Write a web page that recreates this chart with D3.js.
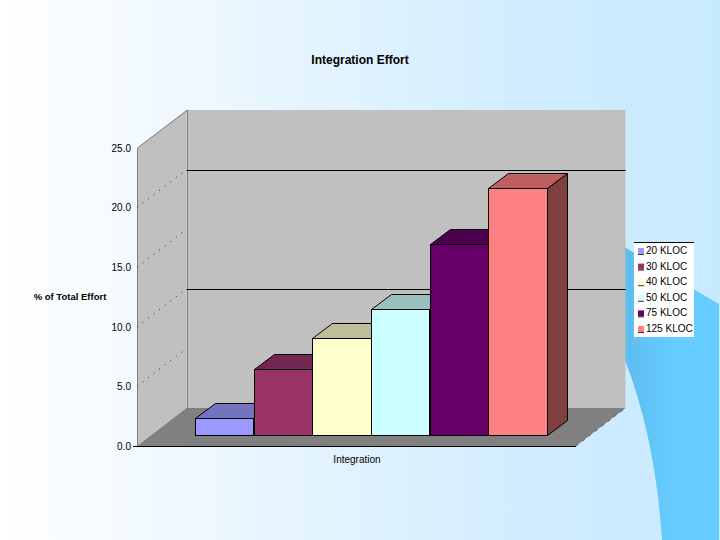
<!DOCTYPE html>
<html>
<head>
<meta charset="utf-8">
<script src="https://cdn.jsdelivr.net/npm/d3@7"></script>
<style>
  html, body { margin: 0; padding: 0; background: #fff; }
  svg { display: block; }
  text { font-family: "Liberation Sans", Arial, sans-serif; fill: #000; }
</style>
</head>
<body>
<div id="chart"></div>
<script>
const categorias = ["20 KLOC", "30 KLOC", "40 KLOC", "50 KLOC", "75 KLOC", "125 KLOC"];
const valores = [1.45, 5.5, 8.15, 10.6, 16.05, 20.7];
const coloresFrente = ["#9999ff", "#993366", "#ffffcc", "#ccffff", "#660066", "#ff8080"];
const coloresTapa = ["#7373bf", "#732650", "#bfbf99", "#99bfbf", "#4d004d", "#bf6060"];
const coloresLado = ["#4d4d80", "#4d1a33", "#808066", "#668080", "#330033", "#804040"];
const ticksY = [0, 5, 10, 15, 20, 25];
const lineasFondo = [10, 20];
const lineasPunteadas = [5, 10, 15, 20];

const width = 720;
const height = 540;

// Profundidad de la caja 3D y de las barras
const fondo = { dx: 49.5, dy: -38 };
const barra = { dx: 20, dy: -15, y: -10.5 };

// Ajuste al pixel para que los bordes salgan nitidos
const px = (v) => Math.round(v) + 0.5;

const svg = d3.select("#chart").append("svg").attr("width", width).attr("height", height);
const defs = svg.append("defs");

const degradado = defs.append("linearGradient").attr("id", "bg").attr("x1", 0).attr("x2", 1).attr("y1", 0).attr("y2", 0);
degradado.append("stop").attr("offset", "0%").attr("stop-color", "#ffffff");
degradado.append("stop").attr("offset", "75%").attr("stop-color", "#d0ecff");
degradado.append("stop").attr("offset", "100%").attr("stop-color", "#c8eaff");

const degradadoForma = defs.append("linearGradient").attr("id", "forma").attr("x1", 0).attr("x2", 1).attr("y1", 0).attr("y2", 0);
degradadoForma.append("stop").attr("offset", "0%").attr("stop-color", "#58b4e4");
degradadoForma.append("stop").attr("offset", "60%").attr("stop-color", "#66ccff");

svg.append("rect").attr("width", width).attr("height", height).attr("fill", "url(#bg)");

// Forma azul de la plantilla, detras del grafico
svg.append("path")
  .attr("d", "M600,232 C640,256 680,282 719,304 L719,540 L662,540 C658,480 648,420 625,360 C612,330 600,300 600,232 Z")
  .attr("fill", "url(#forma)");

const y = d3.scaleLinear().domain([0, 25]).range([446, 148]);
const xCaja = d3.scaleLinear().domain([0, 1]).range([137, 576]);
const x = d3.scaleBand().domain(categorias).range([195, 547]);

const puntos = (lista) => lista.map((p) => p.join(",")).join(" ");

const x0 = xCaja(0);
const x1 = xCaja(1);
const yBase = y(0);
const yTope = y(25);

// Pared lateral, pared de fondo y piso
svg.append("polygon")
  .attr("points", puntos([[x0, yBase], [x0, yTope], [x0 + fondo.dx, yTope + fondo.dy], [x0 + fondo.dx, yBase + fondo.dy]]))
  .attr("fill", "#c0c0c0");
svg.append("polygon")
  .attr("points", puntos([[x0 + fondo.dx, yBase + fondo.dy], [x0 + fondo.dx, yTope + fondo.dy], [x1 + fondo.dx, yTope + fondo.dy], [x1 + fondo.dx, yBase + fondo.dy]]))
  .attr("fill", "#c0c0c0");
svg.append("polygon")
  .attr("points", puntos([[x0, yBase], [x0 + fondo.dx, yBase + fondo.dy], [x1 + fondo.dx, yBase + fondo.dy], [x1, yBase]]))
  .attr("fill", "#808080");

// Bordes grises de las paredes
svg.append("path")
  .attr("d", `M${px(x0)},${yBase}V${yTope}L${px(x0 + fondo.dx)},${yTope + fondo.dy}V${yBase + fondo.dy}`)
  .attr("fill", "none").attr("stroke", "#808080").attr("stroke-width", 1);

// Lineas de division
svg.selectAll(".fondo").data(lineasFondo).join("line")
  .attr("x1", x0 + fondo.dx).attr("x2", x1 + fondo.dx)
  .attr("y1", (d) => px(y(d) + fondo.dy)).attr("y2", (d) => px(y(d) + fondo.dy))
  .attr("stroke", "#000");
svg.selectAll(".punteada").data(lineasPunteadas).join("line")
  .attr("x1", x0).attr("x2", x0 + fondo.dx)
  .attr("y1", (d) => y(d)).attr("y2", (d) => y(d) + fondo.dy)
  .attr("stroke", "#000").attr("stroke-width", 1).attr("stroke-dasharray", "1 6").attr("stroke-opacity", 0.8);

// Borde frontal y derecho del piso
svg.append("line").attr("x1", x0 - 4).attr("x2", x1).attr("y1", px(yBase)).attr("y2", px(yBase)).attr("stroke", "#000");
svg.append("line").attr("x1", x1).attr("x2", x1 + fondo.dx).attr("y1", yBase).attr("y2", yBase + fondo.dy)
  .attr("stroke", "#000").attr("stroke-dasharray", "3 5").attr("stroke-opacity", 0.5);

// Barras: cada una tapa el lado de la anterior
const grupos = svg.selectAll(".barra").data(categorias).join("g").attr("class", "barra");
grupos.each(function (cat, i) {
  const g = d3.select(this);
  const izq = px(x(cat));
  const der = px(x(cat) + x.bandwidth() - 0.5);
  const arriba = px(y(valores[i]) + barra.y - 0.5);
  const abajo = px(y(0) + barra.y - 0.5);
  g.append("polygon")
    .attr("points", puntos([[der, abajo], [der, arriba], [der + barra.dx, arriba + barra.dy], [der + barra.dx, abajo + barra.dy]]))
    .attr("fill", coloresLado[i]).attr("stroke", "#000");
  g.append("polygon")
    .attr("points", puntos([[izq, arriba], [izq + barra.dx, arriba + barra.dy], [der + barra.dx, arriba + barra.dy], [der, arriba]]))
    .attr("fill", coloresTapa[i]).attr("stroke", "#000");
  g.append("rect")
    .attr("x", izq).attr("y", arriba).attr("width", der - izq).attr("height", abajo - arriba)
    .attr("fill", coloresFrente[i]).attr("stroke", "#000");
});

// Eje Y
const ejeY = d3.axisLeft(y).tickValues(ticksY).tickFormat(d3.format(".1f")).tickSize(0).tickPadding(6);
svg.append("g").attr("transform", `translate(${x0},0)`).call(ejeY)
  .call((g) => g.select(".domain").remove())
  .call((g) => g.selectAll("text").attr("font-size", 10).style("font-family", '"Liberation Sans", Arial, sans-serif').attr("fill", "#000"));

// Textos
svg.append("text").attr("x", 360).attr("y", 64).attr("text-anchor", "middle")
  .attr("font-size", 12).attr("font-weight", "bold").text("Integration Effort");
svg.append("text").attr("x", 70).attr("y", 300).attr("text-anchor", "middle")
  .attr("font-size", 9.5).attr("font-weight", "bold").text("% of Total Effort");
svg.append("text").attr("x", 357).attr("y", 463).attr("text-anchor", "middle")
  .attr("font-size", 10).text("Integration");

// Leyenda
const leyenda = svg.append("g");
leyenda.append("rect").attr("x", 634).attr("y", 242).attr("width", 60).attr("height", 95).attr("fill", "#fff");
leyenda.append("line").attr("x1", 634).attr("x2", 694).attr("y1", 242.5).attr("y2", 242.5).attr("stroke", "#000");
const yLeyenda = d3.scalePoint().domain(categorias).range([251, 329]);
const filas = leyenda.selectAll(".fila").data(categorias).join("g")
  .attr("transform", (d) => `translate(638,${yLeyenda(d)})`);
filas.append("rect").attr("x", 0).attr("y", -3).attr("width", 6).attr("height", 6)
  .attr("fill", (d, i) => coloresFrente[i]);
filas.append("line").attr("x1", 0).attr("x2", 6).attr("y1", 3.5).attr("y2", 3.5).attr("stroke", "#000").attr("stroke-opacity", 0.8);
filas.append("text").attr("x", 8).attr("y", 3).attr("font-size", 10).text((d) => d);
</script>
</body>
</html>
